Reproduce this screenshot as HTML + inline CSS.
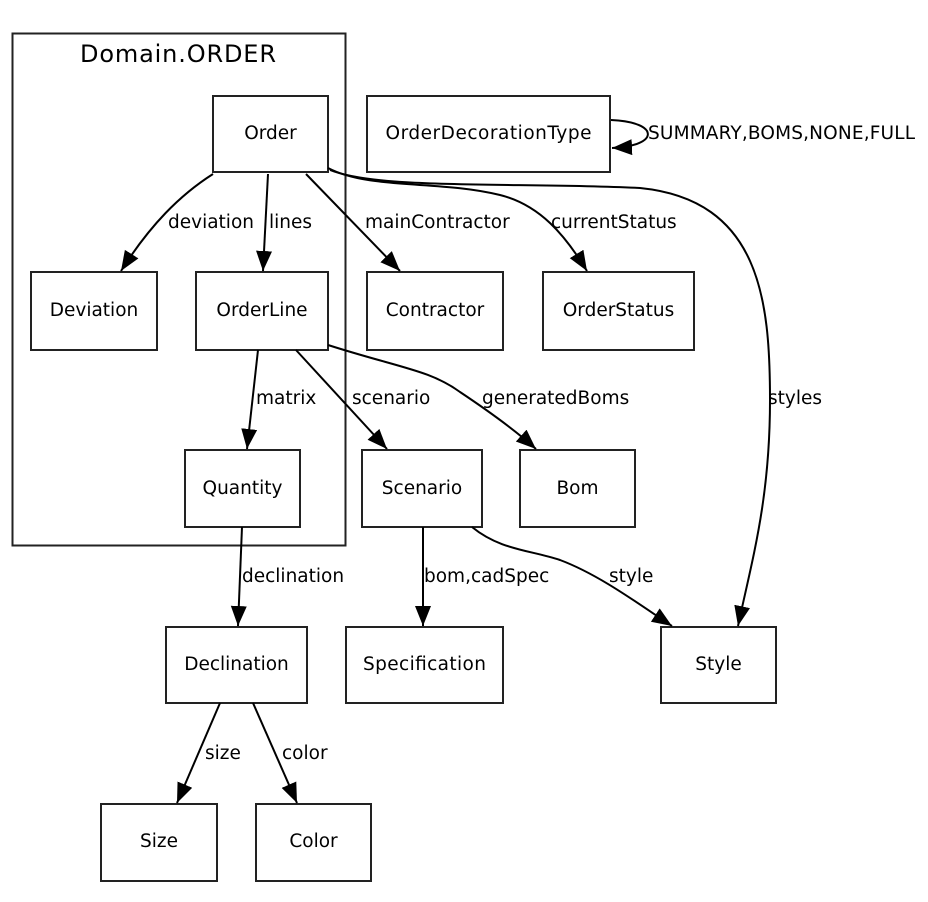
<!DOCTYPE html>
<html><head><meta charset="utf-8"><style>
html,body{margin:0;padding:0;background:#fff;}
svg{display:block}
text{font-family:"DejaVu Sans","Liberation Sans",sans-serif;font-size:18.5px;fill:#000}
</style></head><body>
<svg width="928" height="902" viewBox="0 0 928 902" xmlns="http://www.w3.org/2000/svg">
<defs>
<marker id="a" markerUnits="userSpaceOnUse" markerWidth="22" markerHeight="18" refX="20" refY="8" orient="auto">
<path d="M0,0 L20,8 L0,16 Z" fill="#000"/>
</marker>
</defs>
<g fill="none" stroke="#222" stroke-width="2">
<rect x="12.5" y="33.5" width="333" height="512"/>
<rect x="213" y="96" width="115" height="76"/>
<rect x="367" y="96" width="243" height="76"/>
<rect x="31" y="272" width="126" height="78"/>
<rect x="196" y="272" width="132" height="78"/>
<rect x="367" y="272" width="136" height="78"/>
<rect x="543" y="272" width="151" height="78"/>
<rect x="185" y="450" width="115" height="77"/>
<rect x="362" y="450" width="120" height="77"/>
<rect x="520" y="450" width="115" height="77"/>
<rect x="166" y="627" width="141" height="76"/>
<rect x="346" y="627" width="157" height="76"/>
<rect x="661" y="627" width="115" height="76"/>
<rect x="101" y="804" width="116" height="77"/>
<rect x="256" y="804" width="115" height="77"/>
</g>
<g fill="none" stroke="#000" stroke-width="2" marker-end="url(#a)">
<path d="M213,174 C180,195 150,225 121,271"/>
<path d="M268,174 L263,271"/>
<path d="M306,174 L400,271"/>
<path d="M328,168 C370,190 440,180 500,195 C540,205 565,235 587,271"/>
<path d="M330,170 C380,190 520,182 640,188 C760,200 770,300 770,400 C770,500 752,560 738,626"/>
<path d="M611,120 C660,122 660,146 612,148"/>
<path d="M258,350 L247,449"/>
<path d="M296,350 L387,449"/>
<path d="M328,345 C400,368 430,370 460,392 C490,412 515,430 536,449"/>
<path d="M242,527 L238,626"/>
<path d="M423,527 L423,626"/>
<path d="M472,527 C500,550 530,550 560,560 C600,575 640,605 672,626"/>
<path d="M220,703 L177,803"/>
<path d="M253,703 L297,803"/>
</g>
<text x="178" y="62" style="font-size:24px" text-anchor="middle" textLength="196">Domain.ORDER</text>
<g text-anchor="middle">
<text x="270.5" y="139">Order</text>
<text x="488.5" y="139" textLength="206">OrderDecorationType</text>
<text x="94" y="316">Deviation</text>
<text x="262" y="316">OrderLine</text>
<text x="435" y="316">Contractor</text>
<text x="618.5" y="316">OrderStatus</text>
<text x="242.5" y="494">Quantity</text>
<text x="422" y="494">Scenario</text>
<text x="577.5" y="494">Bom</text>
<text x="236.5" y="670">Declination</text>
<text x="424.5" y="670" textLength="123">Specification</text>
<text x="718.5" y="670">Style</text>
<text x="159" y="847">Size</text>
<text x="313.5" y="847">Color</text>
</g>
<text x="648" y="139" textLength="267">SUMMARY,BOMS,NONE,FULL</text>
<text x="168" y="228">deviation</text>
<text x="269" y="228">lines</text>
<text x="365" y="228">mainContractor</text>
<text x="551" y="228">currentStatus</text>
<text x="256" y="404">matrix</text>
<text x="352" y="404">scenario</text>
<text x="482" y="404">generatedBoms</text>
<text x="768" y="404">styles</text>
<text x="242" y="582">declination</text>
<text x="424" y="582">bom,cadSpec</text>
<text x="609" y="582">style</text>
<text x="205" y="759">size</text>
<text x="282" y="759">color</text>
</svg>
</body></html>
